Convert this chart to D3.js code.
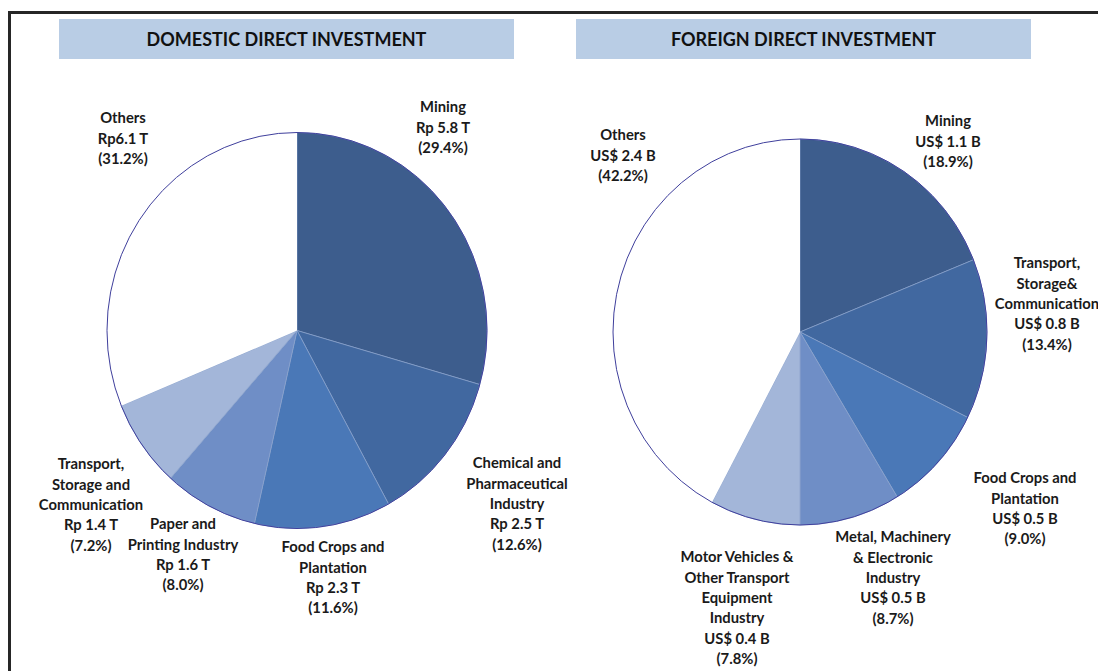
<!DOCTYPE html>
<html>
<head>
<meta charset="utf-8">
<script src="https://cdn.jsdelivr.net/npm/d3@7"></script>
<style>
  html, body { margin: 0; padding: 0; background: #fff; }
  svg { display: block; }
  .title { font-family: Lato, "Open Sans", sans-serif; font-weight: 700; font-size: 18px; fill: #111; }
  .lbl { font-family: Lato, "Open Sans", sans-serif; font-weight: 700; font-size: 14.8px; fill: #1a1a1a; }
</style>
</head>
<body>
<div id="chart"></div>
<script>
// domestic direct investment, slices clockwise from 12 o'clock
const domesticSectors = ["Mining", "Chemical and\nPharmaceutical\nIndustry", "Food Crops and\nPlantation",
    "Paper and\nPrinting Industry", "Transport,\nStorage and\nCommunication", "Others"];
const domesticAmounts = ["Rp 5.8 T", "Rp 2.5 T", "Rp 2.3 T", "Rp 1.6 T", "Rp 1.4 T", "Rp6.1 T"];
const domesticShares = [29.4, 12.6, 11.6, 8.0, 7.2, 31.2];

// foreign direct investment
const foreignSectors = ["Mining", "Transport,\nStorage&\nCommunication", "Food Crops and\nPlantation",
    "Metal, Machinery\n& Electronic\nIndustry", "Motor Vehicles &\nOther Transport\nEquipment\nIndustry", "Others"];
const foreignAmounts = ["US$ 1.1 B", "US$ 0.8 B", "US$ 0.5 B", "US$ 0.5 B", "US$ 0.4 B", "US$ 2.4 B"];
const foreignShares = [18.9, 13.4, 9.0, 8.7, 7.8, 42.2];

const sliceColors = ["#3d5d8d", "#4168a0", "#4a78b7", "#6f8ec6", "#a3b6d9", "#ffffff"];

const width = 1098, height = 671;

const svg = d3.select("#chart").append("svg")
    .attr("width", width)
    .attr("height", height);

// outer frame (only left and top edges are in view)
svg.append("path")
    .attr("d", `M9.5,${height} V12.5 H${width}`)
    .attr("fill", "none")
    .attr("stroke", "#262626")
    .attr("stroke-width", 3);

const panels = [
    {
        title: "DOMESTIC DIRECT INVESTMENT",
        sectors: domesticSectors, amounts: domesticAmounts, shares: domesticShares,
        bar: { x: 59, w: 455 },
        cx: 297, cy: 330.5, rx: 190, ry: 198,
        // first-line centre of each label (layout only)
        labelAt: [[443, 107], [517, 463], [333, 547], [183, 524], [91, 464], [123, 118]]
    },
    {
        title: "FOREIGN DIRECT INVESTMENT",
        sectors: foreignSectors, amounts: foreignAmounts, shares: foreignShares,
        bar: { x: 576, w: 455 },
        cx: 800, cy: 332, rx: 187, ry: 193,
        labelAt: [[948, 121], [1047, 263], [1025, 478], [893, 537], [737, 557], [623, 135]]
    }
];

const pie = d3.pie().sort(null).value((d) => d.share);
const lineH = 20.4;

panels.forEach((p) => {
    const g = svg.append("g");

    g.append("rect")
        .attr("x", p.bar.x)
        .attr("y", 19)
        .attr("width", p.bar.w)
        .attr("height", 40)
        .attr("fill", "#b9cde5");

    g.append("text")
        .attr("class", "title")
        .attr("x", p.bar.x + p.bar.w / 2)
        .attr("y", 40)
        .attr("dy", "0.35em")
        .attr("text-anchor", "middle")
        .text(p.title);

    const rows = p.sectors.map((s, i) => ({
        sector: s, amount: p.amounts[i], share: p.shares[i], color: sliceColors[i], pos: p.labelAt[i]
    }));

    const arc = d3.arc().innerRadius(0).outerRadius(p.ry);

    const pieG = g.append("g")
        .attr("transform", `translate(${p.cx},${p.cy}) scale(${p.rx / p.ry},1)`);

    pieG.selectAll("path.slice")
        .data(pie(rows))
        .enter()
        .append("path")
        .attr("class", "slice")
        .attr("d", arc)
        .attr("fill", (d) => d.data.color)
        .attr("stroke", (d) => d.data.color === "#ffffff" ? "none" : "#8aa2cb")
        .attr("stroke-width", 0.7)
        .attr("vector-effect", "non-scaling-stroke");

    pieG.append("circle")
        .attr("r", p.ry)
        .attr("fill", "none")
        .attr("stroke", "#3f3f9c")
        .attr("stroke-width", 1)
        .attr("vector-effect", "non-scaling-stroke");

    // labels
    rows.forEach((r) => {
        const lines = r.sector.split("\n").concat([r.amount, `(${r.share.toFixed(1)}%)`]);
        const t = g.append("text")
            .attr("class", "lbl")
            .attr("text-anchor", "middle");
        lines.forEach((ln, k) => {
            t.append("tspan")
                .attr("x", r.pos[0])
                .attr("y", r.pos[1] + k * lineH)
                .attr("dy", "0.35em")
                .text(ln);
        });
    });
});
</script>
</body>
</html>
